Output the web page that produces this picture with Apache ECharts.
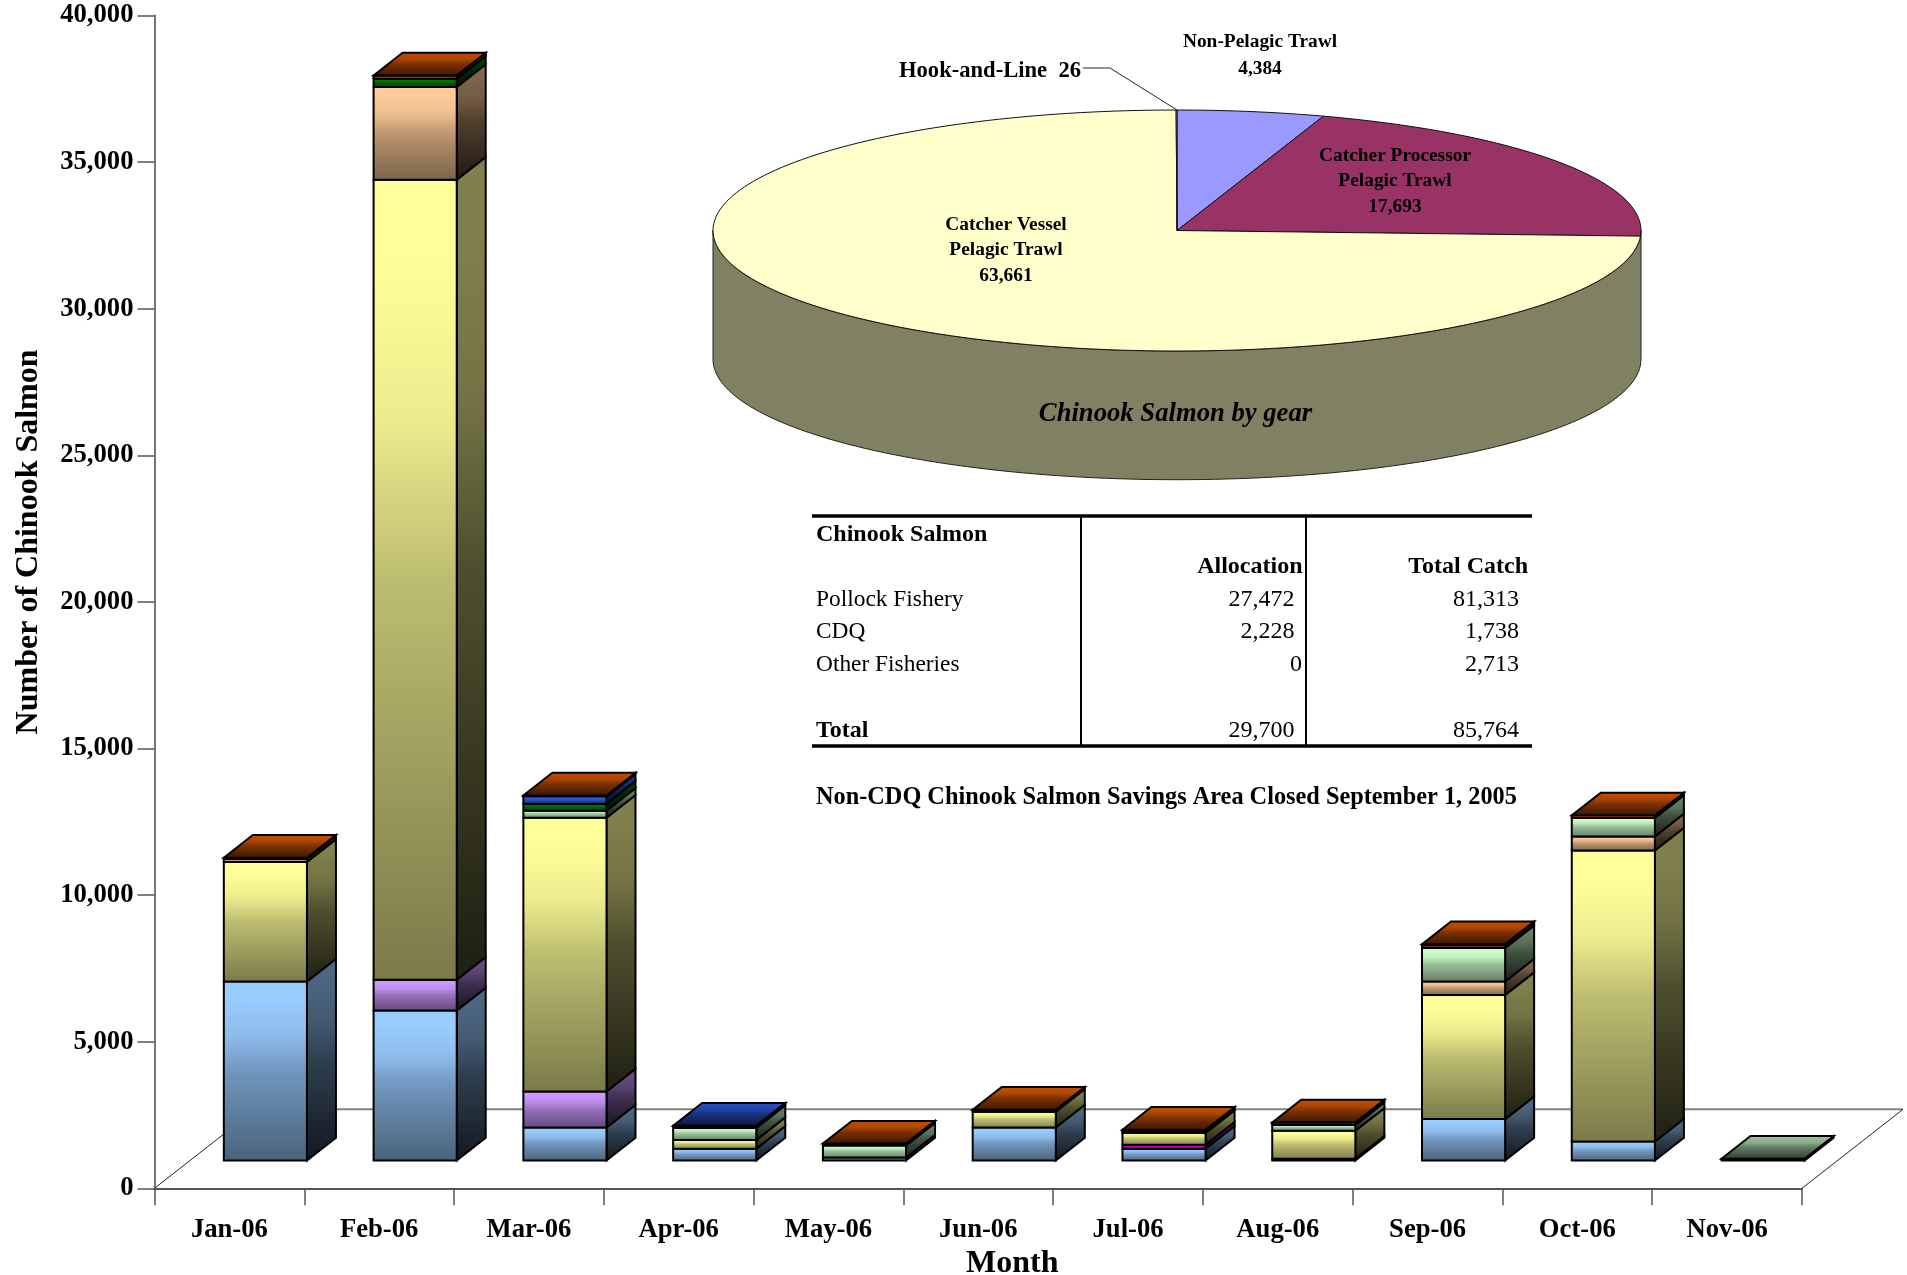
<!DOCTYPE html>
<html><head><meta charset="utf-8">
<style>html,body{margin:0;padding:0;background:#fff}#c{width:1907px;height:1275px}</style>
<script src="https://cdn.jsdelivr.net/npm/echarts@6/dist/echarts.min.js"></script>
</head><body><div id="c"></div>
<script>
const months = ['Jan-06','Feb-06','Mar-06','Apr-06','May-06','Jun-06','Jul-06','Aug-06','Sep-06','Oct-06','Nov-06'];
const lightBlue  = [6107,5118,1126, 400, 100,1126, 400,  58,1412, 648,   0];
const purple     = [   0,1047,1228,   0,   0,   0,   0,   0,   0,   0,   0];
const magenta    = [   0,   0,   0,   0,   0,   0, 136,   0,   0,   0,   0];
const yellow     = [4074,27285,9338, 297,  0, 536, 400, 955,4230,9928,   0];
const peach      = [ 102,3166,   0,   0,   0,   0,   0,   0, 464, 478,   0];
const lightGreen = [   0,   0, 239, 409, 409,   0,  70, 195,1140, 628,  60];
const darkGreen  = [   0, 280, 239,   0,   0,   0,   0,   0,   0,   0,   0];
const royalBlue  = [   0,   0, 249,  78,   0,   0,   0,   0,   0,   0,   0];
const maroon     = [   0,   0,   0,   0,   0,   0,   0,   0, 113,   0,   0];
const orange     = [  45, 110,  30,   0,  68,  68,  45,  89,  20,  89,   0];
const stackValues = [lightBlue,purple,magenta,yellow,peach,lightGreen,darkGreen,royalBlue,maroon,orange];
const stackColors = ['#99CCFF','#CC99FF','#FF00FF','#FFFF99','#FFCC99','#CCFFCC','#008000','#3366FF','#993366','#FF6600'];

const gearNames  = ['Non-Pelagic Trawl','Catcher Processor\nPelagic Trawl','Catcher Vessel\nPelagic Trawl','Hook-and-Line'];
const gearValues = [4384,17693,63661,26];
const gearColors = ['#9999FF','#993366','#FFFFCC','#FFFFCC'];

const tableRows = ['Pollock Fishery','CDQ','Other Fisheries'];
const allocation = [27472,2228,0];
const totalCatch = [81313,1738,2713];
const allocationTotal = 29700;
const catchTotal = 85764;

const SERIF = '"Liberation Serif","Times New Roman",serif';
const fmt = n => String(n).replace(/\B(?=(\d{3})+$)/g, ',');
function shade(hex, f) {
  const n = parseInt(hex.slice(1), 16);
  return 'rgb(' + [(n >> 16) & 255, (n >> 8) & 255, n & 255].map(v => Math.round(v * f)).join(',') + ')';
}
const RAMP = [[0,0],[0.1,0],[0.3,0.14],[0.5,0.5],[1,1]];
function grad(hex, a, b) {
  return {type:'linear',x:0,y:0,x2:0,y2:1,
    colorStops:RAMP.map(r => ({offset:r[0],color:shade(hex,a + (b - a) * r[1])}))};
}
// Topmost non-empty stack per month
const topOf = months.map((_, m) => {
  let t = -1; stackValues.forEach((v, s) => { if (v[m] > 0) t = s; }); return t;
});
const FLOOR_DX = 101, FLOOR_DY = 79;
const BAR_SHIFT_X = 36, BAR_SHIFT_Y = 27.8, BAR_DX = 29, BAR_DY = 22.7, BAR_W = 0.555;

const barSeries = stackValues.map((vals, s) => {
  const data = [];
  vals.forEach((v, m) => {
    if (v > 0) {
      let base = 0;
      for (let k = 0; k < s; k++) base += stackValues[k][m];
      data.push([m, base, base + v]);
    }
  });
  return {
    type:'custom', name:'stack' + s, coordinateSystem:'cartesian2d', z:3 + s, clip:false, silent:true,
    encode:{x:0, y:[1,2]}, data,
    renderItem(params, api) {
      const m = api.value(0), p0 = api.coord([m, api.value(1)]), p1 = api.coord([m, api.value(2)]);
      const w = api.size([1,0])[0] * BAR_W;
      const xl = p0[0] + BAR_SHIFT_X - w / 2, xr = xl + w;
      const yb = p0[1] - BAR_SHIFT_Y, yt = p1[1] - BAR_SHIFT_Y;
      const c = stackColors[s];
      const line = {stroke:'#000', lineWidth:2, lineJoin:'miter'};
      const kids = [
        {type:'polygon', shape:{points:[[xr,yb],[xr+BAR_DX,yb-BAR_DY],[xr+BAR_DX,yt-BAR_DY],[xr,yt]]},
         style:Object.assign({fill:grad(c,0.5,0.12)},line)},
        {type:'polygon', shape:{points:[[xl,yb],[xr,yb],[xr,yt],[xl,yt]]},
         style:Object.assign({fill:grad(c,1,0.48)},line)}
      ];
      if (topOf[m] === s) kids.push({type:'polygon',
        shape:{points:[[xl,yt],[xr,yt],[xr+BAR_DX,yt-BAR_DY],[xl+BAR_DX,yt-BAR_DY]]},
        style:Object.assign({fill:grad(c,0.75,0.22)},line)});
      return {type:'group', children:kids};
    }
  };
});

const floorSeries = {
  type:'custom', coordinateSystem:'cartesian2d', z:2, clip:false, silent:true, data:[[0,0]],
  renderItem(params) {
    const g = params.coordSys, x0 = g.x, x1 = g.x + g.width, y = g.y + g.height;
    return {type:'group', children:[
      {type:'polyline', shape:{points:[[x0,y],[x0+FLOOR_DX,y-FLOOR_DY]]}, style:{stroke:'#222',lineWidth:1,fill:null}},
      {type:'polyline', shape:{points:[[x0+FLOOR_DX,y-FLOOR_DY],[x1+FLOOR_DX,y-FLOOR_DY]]}, style:{stroke:'#808080',lineWidth:2,fill:null}},
      {type:'polyline', shape:{points:[[x1+FLOOR_DX,y-FLOOR_DY],[x1,y]]}, style:{stroke:'#222',lineWidth:1,fill:null}}
    ]};
  }
};

// 3D pie
const CX = 1177, CY = 230.5, RX = 464, RY = 120.5, DEPTH = 128.7;
const pt = (deg, dy) => {
  const a = deg * Math.PI / 180;
  return [CX + RX * Math.sin(a), CY - RY * Math.cos(a) + (dy || 0)];
};
const gearTotal = gearValues.reduce((a, b) => a + b, 0);
const pieWall = {
  type:'custom', coordinateSystem:'none', z:20, silent:true, data:[[0]],
  renderItem() {
    const pts = [];
    for (let d = 90; d <= 270; d += 1.5) pts.push(pt(d));
    for (let d = 270; d >= 90; d -= 1.5) pts.push(pt(d, DEPTH));
    return {type:'polygon', shape:{points:pts}, style:{fill:'#808062',stroke:'#222',lineWidth:1}};
  }
};
const pieSlices = {
  type:'custom', coordinateSystem:'none', z:21, silent:true, data:gearValues.map(v => [v]),
  renderItem(params, api) {
    let start = 0;
    for (let i = 0; i < params.dataIndex; i++) start += gearValues[i];
    const a0 = start / gearTotal * 360, a1 = (start + api.value(0)) / gearTotal * 360;
    const pts = [[CX, CY]];
    const steps = Math.max(2, Math.ceil((a1 - a0) / 1.5));
    for (let k = 0; k <= steps; k++) pts.push(pt(a0 + (a1 - a0) * k / steps));
    return {type:'polygon', shape:{points:pts}, style:{fill:gearColors[params.dataIndex],stroke:'#111',lineWidth:1,lineJoin:'round'}};
  }
};

function txt(text, x, y, size, opt) {
  opt = opt || {};
  return {type:'text', z:100, silent:true, style:{
    text, x, y, fill:'#000', align:opt.align||'left', verticalAlign:'middle',
    textAlign:opt.align||'left', textVerticalAlign:'middle',
    font:(opt.italic?'italic ':'')+(opt.bold?'bold ':'')+size+'px '+SERIF,
    lineHeight:opt.lh||undefined
  }};
}
function hline(x0, x1, y, w, c) {
  return {type:'line', z:100, silent:true, shape:{x1:x0,y1:y,x2:x1,y2:y}, style:{stroke:c||'#000',lineWidth:w}};
}
function vline(x, y0, y1, w) {
  return {type:'line', z:100, silent:true, shape:{x1:x,y1:y0,x2:x,y2:y1}, style:{stroke:'#000',lineWidth:w}};
}
const rowY = [600, 632, 665];
const graphics = [
  txt(gearNames[0]+'\n'+fmt(gearValues[0]), 1260, 55.5, 19.4, {bold:true,align:'center',lh:26.5}),
  txt(gearNames[1]+'\n'+fmt(gearValues[1]), 1395, 181, 19.4, {bold:true,align:'center',lh:25.5}),
  txt(gearNames[2]+'\n'+fmt(gearValues[2]), 1006, 250, 19.4, {bold:true,align:'center',lh:25.5}),
  txt(gearNames[3]+'  '+gearValues[3], 1081, 71.5, 22.6, {bold:true,align:'right'}),
  {type:'polyline', z:100, silent:true, shape:{points:[[1083,68],[1110,68],[1177,110]]}, style:{stroke:'#222',lineWidth:1,fill:null}},
  txt('Chinook Salmon by gear', 1175.5, 414, 26.67, {bold:true,italic:true,align:'center'}),
  hline(812,1532,516,3.5), hline(812,1532,746,3.5),
  vline(1081,516,746,2), vline(1306,516,746,2),
  txt('Chinook Salmon', 816, 535, 24, {bold:true}),
  txt('Allocation', 1302.5, 567, 24, {bold:true,align:'right'}),
  txt('Total Catch', 1528, 567, 24, {bold:true,align:'right'}),
  txt('Total', 816, 731, 24, {bold:true}),
  txt(fmt(allocationTotal), 1294.5, 731, 24, {align:'right'}),
  txt(fmt(catchTotal), 1519, 731, 24, {align:'right'}),
  txt('Non-CDQ Chinook Salmon Savings Area Closed September 1, 2005', 816, 798, 24.3, {bold:true})
];
tableRows.forEach((r, i) => {
  graphics.push(txt(r, 816, rowY[i], 23.4));
  graphics.push(txt(fmt(allocation[i]), allocation[i] === 0 ? 1302 : 1294.5, rowY[i], 24, {align:'right'}));
  graphics.push(txt(fmt(totalCatch[i]), 1519, rowY[i], 24, {align:'right'}));
});

const chart = echarts.init(document.getElementById('c'), null, {renderer:'canvas'});
chart.setOption({
  animation:false,
  backgroundColor:'#fff',
  grid:{left:154.5, top:15.5, width:1647.5, height:1172.8, containLabel:false, outerBoundsMode:'none'},
  xAxis:{
    type:'category', data:months, boundaryGap:true,
    axisLine:{lineStyle:{color:'#555',width:2}},
    axisTick:{show:true,length:17,alignWithLabel:false,lineStyle:{color:'#555',width:1.5}},
    axisLabel:{interval:0,margin:28,fontFamily:SERIF,fontWeight:'bold',fontSize:26.67,color:'#000'},
    name:'Month', nameLocation:'middle', nameGap:58,
    nameTextStyle:{fontFamily:SERIF,fontWeight:'bold',fontSize:32,color:'#000',padding:[0,0,0,68]},
    splitLine:{show:false}
  },
  yAxis:{
    type:'value', min:0, max:40000, interval:5000,
    axisLine:{show:true,lineStyle:{color:'#777',width:2}},
    axisTick:{show:true,length:17,lineStyle:{color:'#555',width:1.5}},
    axisLabel:{margin:21,padding:[2,0,0,0],fontFamily:SERIF,fontWeight:'bold',fontSize:26.67,color:'#000',
      formatter:v => fmt(v)},
    name:'Number of Chinook Salmon', nameLocation:'middle', nameGap:110, nameRotate:90,
    nameTextStyle:{fontFamily:SERIF,fontWeight:'bold',fontSize:32,color:'#000',padding:[0,0,0,120]},
    splitLine:{show:false}
  },
  series:[floorSeries].concat(barSeries,[pieWall,pieSlices]),
  graphic:{elements:graphics}
});
</script></body></html>
